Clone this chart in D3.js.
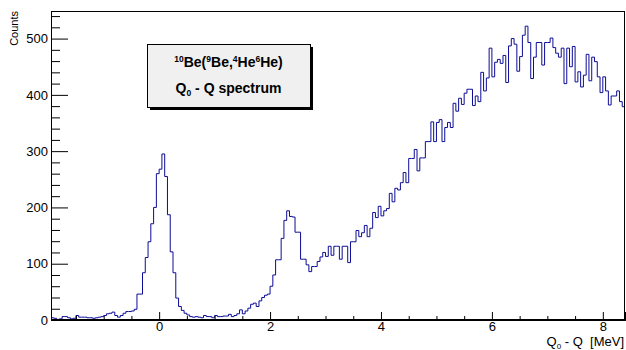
<!DOCTYPE html>
<html>
<head>
<meta charset="utf-8">
<script src="https://cdn.jsdelivr.net/npm/d3@7"></script>
<style>
  body { margin: 0; background: #fff; }
  svg { display: block; font-family: "Liberation Sans", Arial, Helvetica, sans-serif; }
</style>
</head>
<body>
<svg id="chart" width="626" height="350"></svg>
<script>
// histogram range and binning (0.05 MeV bins)
const xMin = -1.95;
const xMax = 8.4;
const binWidth = 0.05;

// counts per bin
const counts = [
  4, 3, 1, 2, 6, 6, 4, 2, 3, 8,
  5, 5, 5, 4, 4, 3, 4, 5, 6, 8,
  11, 12, 14, 8, 5, 8, 12, 15, 15, 16,
  19, 46, 46, 84, 111, 139, 171, 200, 260, 268,
  295, 255, 187, 121, 84, 39, 24, 17, 12, 9,
  6, 5, 6, 5, 4, 8, 6, 6, 4, 8,
  6, 6, 7, 7, 10, 6, 8, 11, 18, 11,
  16, 21, 28, 30, 24, 34, 40, 44, 46, 60,
  80, 107, 107, 145, 177, 194, 184, 183, 156, 156,
  108, 108, 98, 86, 95, 95, 104, 112, 120, 113,
  131, 115, 131, 131, 108, 131, 131, 102, 139, 139,
  159, 148, 155, 168, 148, 163, 191, 182, 202, 185,
  194, 198, 225, 210, 234, 231, 244, 262, 244, 287,
  287, 303, 265, 288, 288, 317, 317, 352, 317, 351,
  356, 317, 342, 351, 342, 385, 371, 394, 383, 403,
  410, 410, 381, 398, 388, 440, 407, 430, 483, 432,
  458, 463, 456, 470, 422, 487, 500, 490, 442, 468,
  506, 522, 493, 429, 467, 493, 493, 453, 493, 493,
  501, 484, 474, 467, 483, 420, 483, 450, 486, 423,
  441, 414, 435, 472, 425, 467, 459, 432, 404, 432,
  407, 382, 398, 398, 407, 388, 379
];

const yMax = 549;
const xMajorTicks = [0, 2, 4, 6, 8];
const xMinorTicks = d3.range(-1.5, 8.01, 0.5).filter(v => Math.abs(v % 2) > 1e-6);
const yMajorTicks = [0, 100, 200, 300, 400, 500];
const yMinorTicks = d3.range(20, 541, 20).filter(v => v % 100 !== 0);

const margin = { top: 11, right: 1, bottom: 30, left: 51 };
const W = 626, H = 350;
const w = W - margin.left - margin.right;
const h = H - margin.top - margin.bottom;

const svg = d3.select('#chart');
const g = svg.append('g').attr('transform', `translate(${margin.left},${margin.top})`);

const x = d3.scaleLinear().domain([xMin, xMax]).range([0, w]);
const y = d3.scaleLinear().domain([0, yMax]).range([h, 0]);

// histogram outline
const pts = counts.map((c, i) => [xMin + i * binWidth, c]);
pts.push([xMax, counts[counts.length - 1]]);
const line = d3.line()
  .x(d => x(d[0]))
  .y(d => y(d[1]))
  .curve(d3.curveStepAfter);

g.append('path')
  .datum(pts)
  .attr('fill', 'none')
  .attr('stroke', '#0c0c96')
  .attr('stroke-width', 1)
  .attr('d', line);

// frame
g.append('rect')
  .attr('x', 0.5).attr('y', 0.5)
  .attr('width', w - 1).attr('height', h - 1)
  .attr('fill', 'none')
  .attr('stroke', '#000');

// x axis, ticks pointing into the frame
g.append('g')
  .attr('transform', `translate(0,${h})`)
  .call(d3.axisBottom(x).tickValues(xMajorTicks).tickSize(-8).tickPadding(2).tickFormat(d3.format('d')));
g.append('g')
  .attr('transform', `translate(0,${h})`)
  .call(d3.axisBottom(x).tickValues(xMinorTicks).tickSize(-4).tickFormat(''));

// y axis
g.append('g')
  .call(d3.axisLeft(y).tickValues(yMajorTicks).tickSize(-17).tickPadding(3).tickFormat(d3.format('d')));
g.append('g')
  .call(d3.axisLeft(y).tickValues(yMinorTicks).tickSize(-9).tickFormat(''));

g.selectAll('.domain').attr('stroke', '#000');
g.selectAll('.tick line').attr('stroke', '#000');
g.selectAll('.tick text')
  .attr('fill', '#000')
  .style('font-size', '13px');

// axis titles
svg.append('text')
  .attr('x', W - 2)
  .attr('y', 346)
  .attr('text-anchor', 'end')
  .attr('xml:space', 'preserve')
  .style('font-size', '13px')
  .html('Q<tspan dy="3" font-size="8">0</tspan><tspan dy="-3"> - Q  [MeV]</tspan>');

svg.append('text')
  .attr('transform', `translate(18,${margin.top}) rotate(-90)`)
  .attr('text-anchor', 'end')
  .style('font-size', '11px')
  .text('Counts');

// title pave
const pave = { x0: 147, y0: 44, x1: 310, y1: 107 };
svg.append('rect')
  .attr('x', pave.x0 + 3).attr('y', pave.y0 + 3)
  .attr('width', pave.x1 - pave.x0).attr('height', pave.y1 - pave.y0)
  .attr('fill', '#000');
svg.append('rect')
  .attr('x', pave.x0 + 0.5).attr('y', pave.y0 + 0.5)
  .attr('width', pave.x1 - pave.x0).attr('height', pave.y1 - pave.y0)
  .attr('fill', '#f0f0f0')
  .attr('stroke', '#000');

const cx = (pave.x0 + pave.x1) / 2;
svg.append('text')
  .attr('x', cx).attr('y', 67)
  .attr('text-anchor', 'middle')
  .style('font-size', '14px')
  .style('font-weight', 'bold')
  .html('<tspan dy="-5" font-size="8.5">10</tspan><tspan dy="5">Be(</tspan>' +
        '<tspan dy="-5" font-size="8.5">9</tspan><tspan dy="5">Be,</tspan>' +
        '<tspan dy="-5" font-size="8.5">4</tspan><tspan dy="5">He</tspan>' +
        '<tspan dy="-5" font-size="8.5">6</tspan><tspan dy="5">He)</tspan>');

svg.append('text')
  .attr('x', cx).attr('y', 93)
  .attr('text-anchor', 'middle')
  .style('font-size', '14px')
  .style('font-weight', 'bold')
  .html('Q<tspan dy="3" font-size="8.5">0</tspan><tspan dy="-3"> - Q spectrum</tspan>');
</script>
</body>
</html>
